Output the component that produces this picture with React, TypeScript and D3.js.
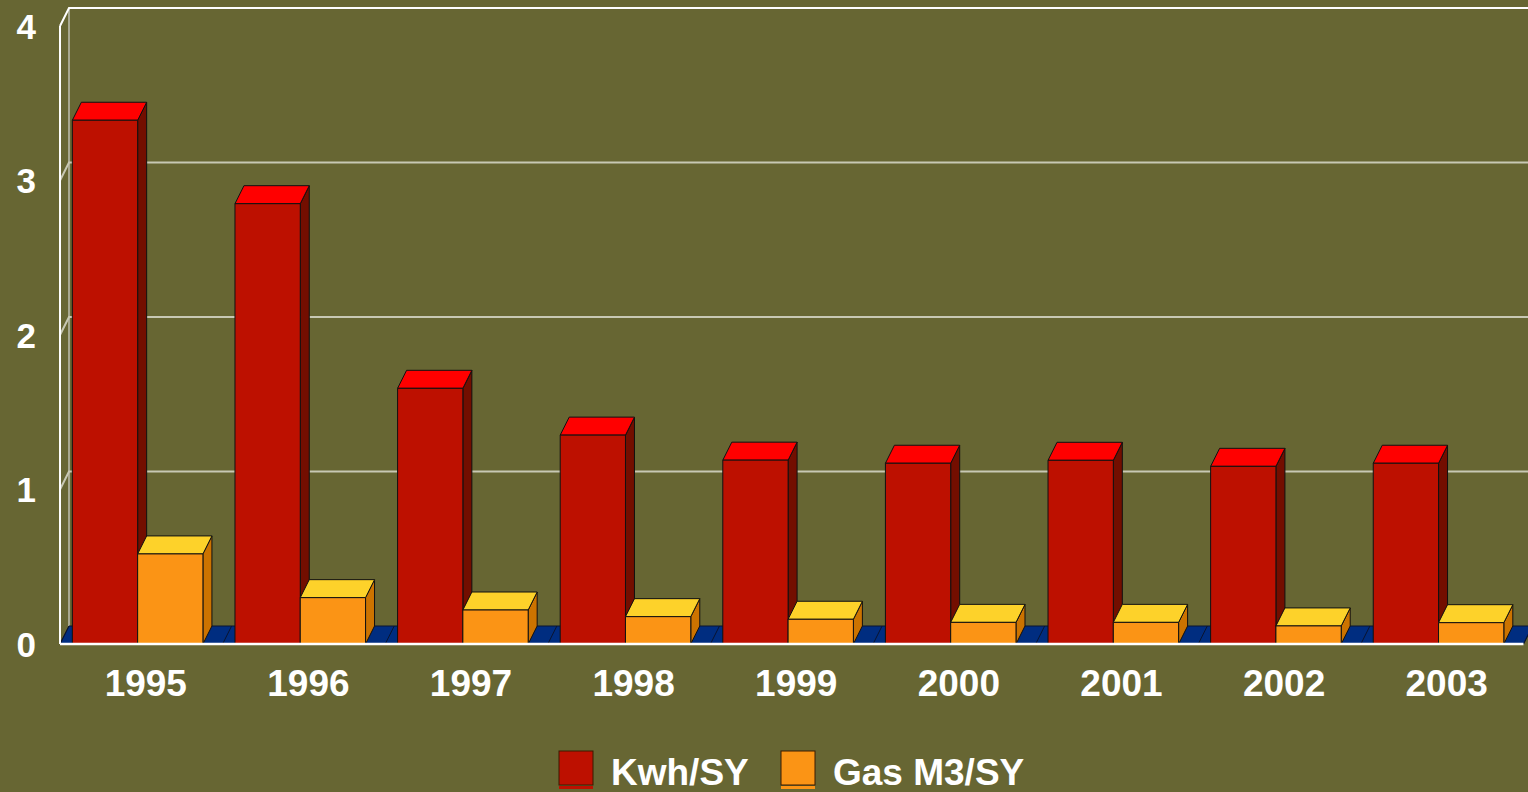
import React from "react";
import * as d3 from "d3";

const years = ["1995", "1996", "1997", "1998", "1999", "2000", "2001", "2002", "2003"];
const seriesNames = ["Kwh/SY", "Gas M3/SY"];
const kwh = [3.39, 2.85, 1.655, 1.352, 1.19, 1.17, 1.189, 1.15, 1.17];
const gas = [0.583, 0.3, 0.22, 0.177, 0.16, 0.14, 0.14, 0.117, 0.138];
const yTicks = [0, 1, 2, 3, 4];

const W = 1528;
const H = 792;
const BG = "#676633";
const DX = 9;
const DY = 18;
const X0 = 60;
const X1 = 1523.5;

const palette = [
  { front: "#BD1000", top: "#FF0000", side: "#730E00" },
  { front: "#FB9415", top: "#FDD22A", side: "#CC7300" },
];

export default function App() {
  const y = d3.scaleLinear().domain([0, 4]).range([644, 26]);
  const x = d3.scaleBand<string>().domain(years).range([X0, X1]).padding(0);
  const bw = x.bandwidth();
  const inner = d3
    .scaleBand<string>()
    .domain(seriesNames)
    .range([bw * 0.076, bw * 0.076 + bw * 0.803])
    .padding(0);
  const data = [kwh, gas];
  const y0 = y(0);

  const bars: React.ReactNode[] = [];
  years.forEach((yr, i) => {
    seriesNames.forEach((s, k) => {
      const v = data[k][i];
      const xl = (x(yr) as number) + (inner(s) as number);
      const w = inner.bandwidth();
      const yt = y(v);
      const c = palette[k];
      bars.push(
        <g key={yr + s} stroke="#111" strokeWidth={1} strokeLinejoin="round">
          <polygon
            points={`${xl + w},${yt} ${xl + w + DX},${yt - DY} ${xl + w + DX},${y0 - DY} ${xl + w},${y0}`}
            fill={c.side}
          />
          <polygon
            points={`${xl},${yt} ${xl + DX},${yt - DY} ${xl + w + DX},${yt - DY} ${xl + w},${yt}`}
            fill={c.top}
          />
          <rect x={xl} y={yt} width={w} height={y0 - yt} fill={c.front} />
        </g>
      );
    });
  });

  const bounds = [...years.map((yr) => x(yr) as number), X1];

  return (
    <svg width={W} height={H} style={{ position: "absolute", left: 0, top: 0, display: "block" }}>
      <rect x={0} y={0} width={W} height={H} fill={BG} />
      {/* back wall left edge */}
      <line x1={X0 + DX} y1={y(4) - DY} x2={X0 + DX} y2={y0 - DY} stroke="#a8a890" strokeWidth={2} />
      {/* gridlines */}
      {yTicks.filter((t) => t > 0).map((t) => (
        <polyline
          key={t}
          points={`${X0},${y(t)} ${X0 + DX},${y(t) - DY} ${W + 20},${y(t) - DY}`}
          fill="none"
          stroke={t === 4 ? "#ffffff" : "#c8c8b4"}
          strokeWidth={2}
        />
      ))}
      {/* floor */}
      <polygon
        points={`${X0},${y0} ${X0 + DX},${y0 - DY} ${X1 + DX},${y0 - DY} ${X1},${y0}`}
        fill="#002D80"
        stroke="#0a1430"
        strokeWidth={1}
      />
      {bounds.map((b, i) => (
        <line key={i} x1={b} y1={y0} x2={b + DX} y2={y0 - DY} stroke="#0a1430" strokeWidth={1} />
      ))}
      {bars}
      {/* front axes */}
      <line x1={X0} y1={y(4)} x2={X0} y2={y0} stroke="#ffffff" strokeWidth={2} />
      <line x1={X0} y1={y0} x2={X1} y2={y0} stroke="#ffffff" strokeWidth={2.5} />
      {/* y labels */}
      {yTicks.map((t) => (
        <text
          key={t}
          x={36}
          y={y(t)}
          dy="0.36em"
          textAnchor="end"
          fill="#ffffff"
          fontFamily="Liberation Sans, Arial, sans-serif"
          fontWeight="bold"
          fontSize={35}
        >
          {t}
        </text>
      ))}
      {/* x labels */}
      {years.map((yr) => (
        <text
          key={yr}
          x={(x(yr) as number) + bw / 2 + 4.5}
          y={696}
          textAnchor="middle"
          fill="#ffffff"
          fontFamily="Liberation Sans, Arial, sans-serif"
          fontWeight="bold"
          fontSize={37}
        >
          {yr}
        </text>
      ))}
      {/* legend */}
      {seriesNames.map((s, k) => {
        const lx = k === 0 ? 559 : 781;
        return (
          <g key={s}>
            <rect x={lx} y={786} width={34} height={3} fill={palette[k].front} />
            <rect x={lx} y={751} width={34} height={34} fill={palette[k].front} stroke="#3a1a00" strokeWidth={1} />
            <text
              x={lx + 52}
              y={785}
              fill="#ffffff"
              fontFamily="Liberation Sans, Arial, sans-serif"
              fontWeight="bold"
              fontSize={37}
            >
              {s}
            </text>
          </g>
        );
      })}
    </svg>
  );
}
